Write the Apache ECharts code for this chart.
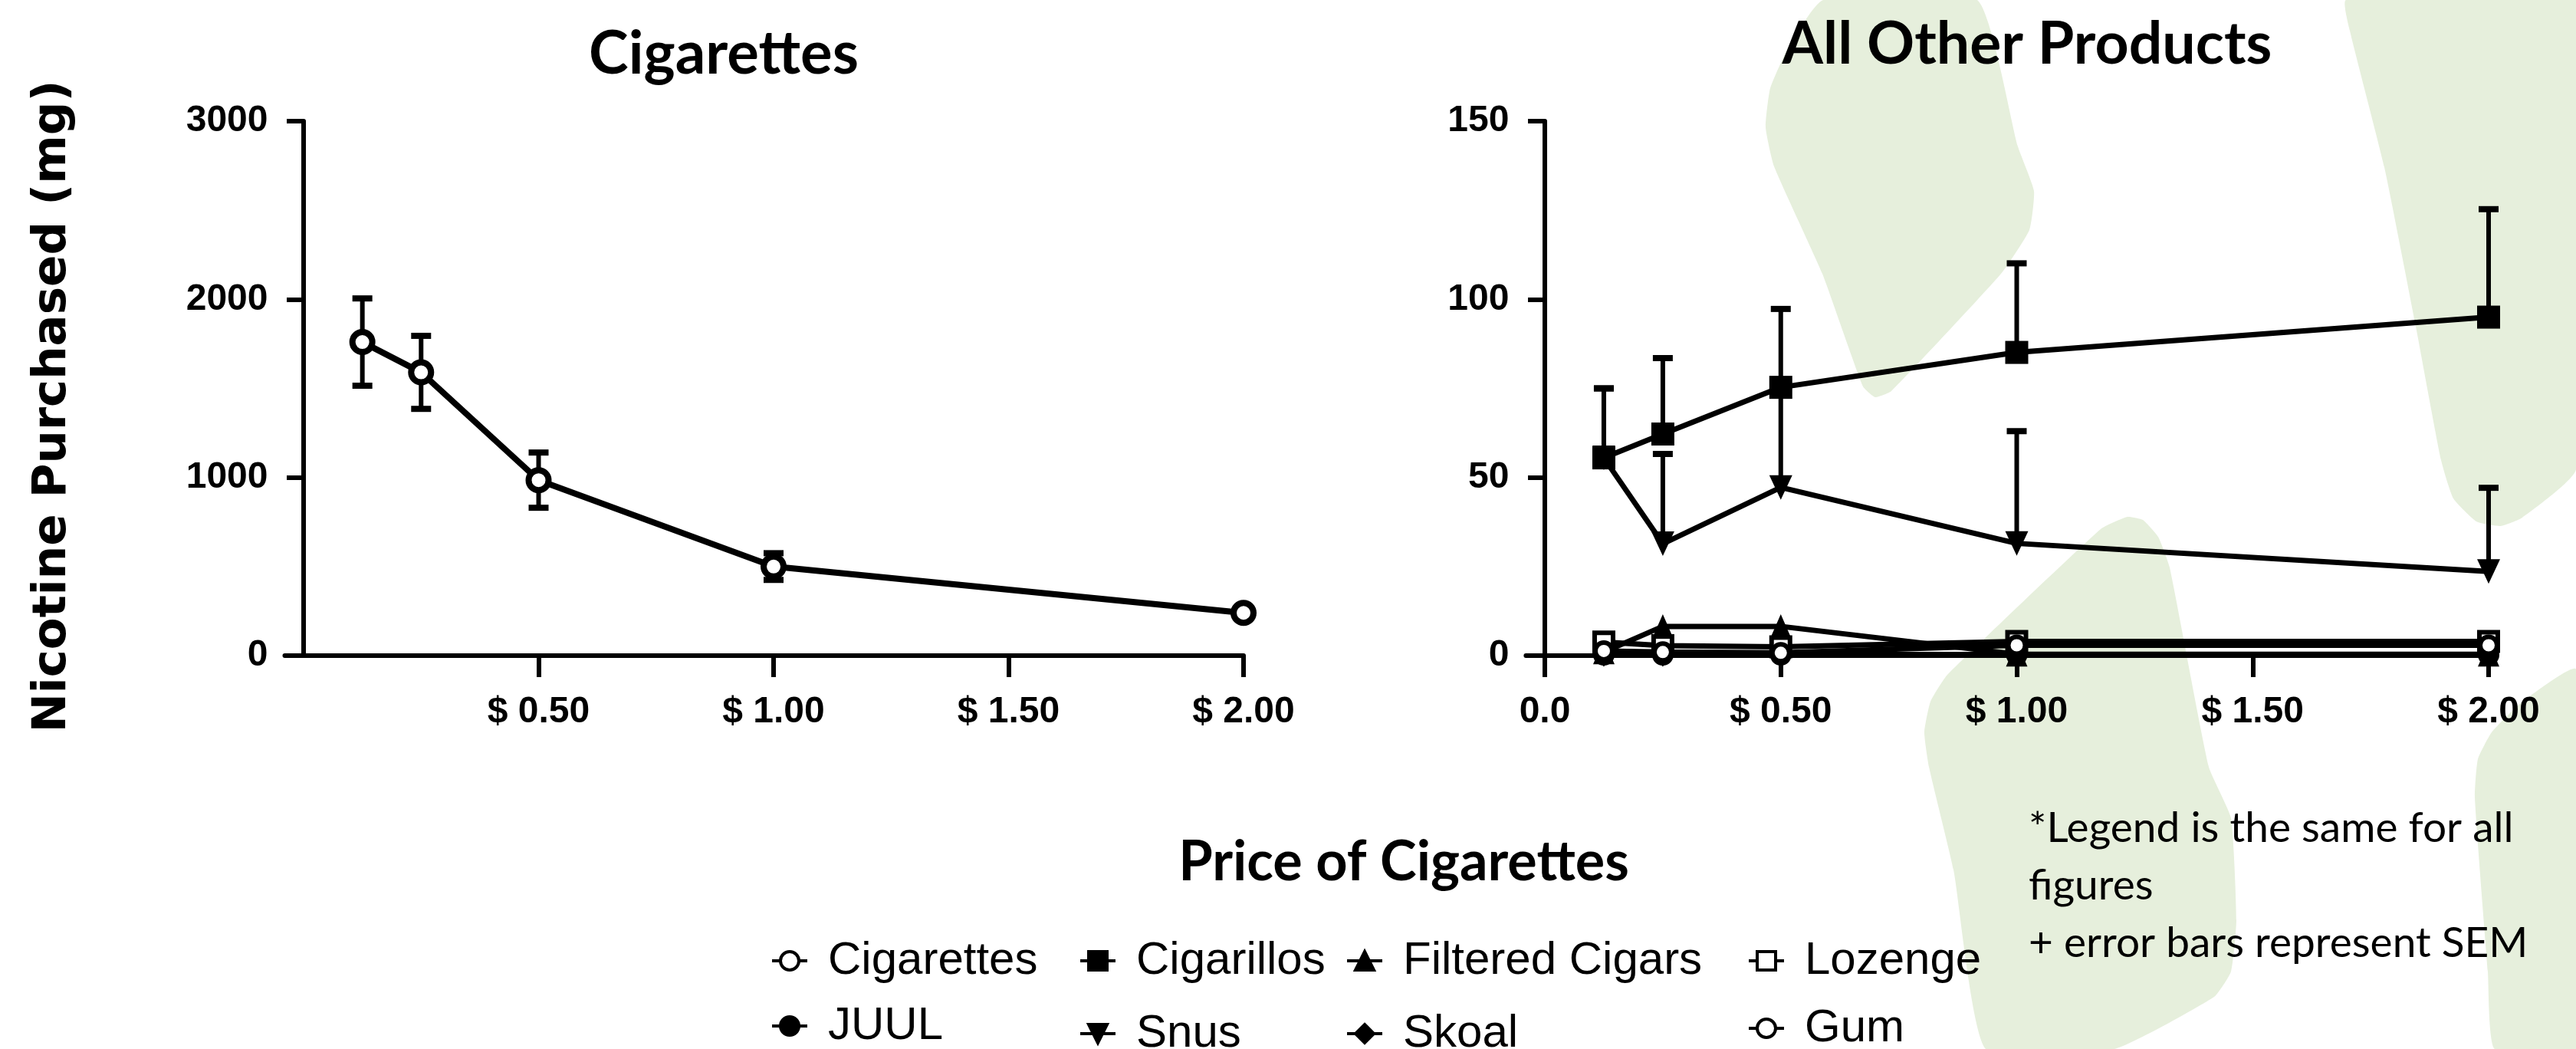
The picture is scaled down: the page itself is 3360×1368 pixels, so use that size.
<!DOCTYPE html>
<html>
<head>
<meta charset="utf-8">
<script src="https://cdn.jsdelivr.net/npm/echarts@6/dist/echarts.min.js"></script>
<style>
html,body{margin:0;padding:0;background:#fff;}
#chart{width:3360px;height:1368px;}
</style>
</head>
<body>
<div id="chart"></div>
<script>
// ---------- data ----------
const prices = [0.125, 0.25, 0.5, 1, 2];

const cigarettesMean = [1760, 1590, 985, 500, 240];
const cigarettesSEM  = [245, 205, 155, 75, 0];

const cigarillosMean = [55.5, 62.2, 75.3, 85.1, 95.0];
const cigarillosSEM  = [19.5, 21.3, 22.0, 25.0, 30.3];
const snusMean       = [55.5, 31.4, 47.2, 31.5, 23.6];
const snusSEM        = [19.5, 25.2, 28.0, 31.5, 23.5];
const filteredMean   = [1.0, 8.2, 8.2, 0.4, 0.4];
const lozengeMean    = [3.8, 2.8, 2.5, 4.0, 4.0];
const juulMean       = [0.2, 0.2, 0.2, 0.2, 0.2];
const skoalMean      = [0.3, 0.3, 0.3, 0.3, 0.3];
const gumMean        = [1.3, 1.0, 0.8, 2.9, 2.9];

const xTickValuesLeft  = [0.5, 1, 1.5, 2];
const xTickLabelsLeft  = ['$ 0.50', '$ 1.00', '$ 1.50', '$ 2.00'];
const xTickValuesRight = [0, 0.5, 1, 1.5, 2];
const xTickLabelsRight = ['0.0', '$ 0.50', '$ 1.00', '$ 1.50', '$ 2.00'];
const yTicksLeft  = [0, 1000, 2000, 3000];
const yTicksRight = [0, 50, 100, 150];

const titleLeft = 'Cigarettes';
const titleRight = 'All Other Products';
const xTitle = 'Price of Cigarettes';
const yTitle = 'Nicotine Purchased (mg)';
const noteLines = ['*Legend is the same for all', 'figures', '+ error bars represent SEM'];

const legendRow1 = ['Cigarettes', 'Cigarillos', 'Filtered Cigars', 'Lozenge'];
const legendRow2 = ['JUUL', 'Snus', 'Skoal', 'Gum'];

// ---------- helpers ----------
function pairs(ys) { return prices.map((x, i) => [x, ys[i]]); }
function triples(ys, es) { return prices.map((x, i) => [x, ys[i], es[i]]); }

function errRender(both) {
  return function (params, api) {
    const x = api.value(0), y = api.value(1), e = api.value(2);
    if (!e) return null;
    const top = api.coord([x, y + e]);
    const mid = api.coord([x, y]);
    const bot = both ? api.coord([x, y - e]) : mid;
    const cw = 13;
    const kids = [
      { type: 'line', shape: { x1: top[0], y1: top[1], x2: bot[0], y2: bot[1] }, style: { stroke: '#000', lineWidth: 6 } },
      { type: 'line', shape: { x1: top[0] - cw, y1: top[1], x2: top[0] + cw, y2: top[1] }, style: { stroke: '#000', lineWidth: 8 } }
    ];
    if (both) kids.push({ type: 'line', shape: { x1: bot[0] - cw, y1: bot[1], x2: bot[0] + cw, y2: bot[1] }, style: { stroke: '#000', lineWidth: 8 } });
    return { type: 'group', children: kids };
  };
}

const axisFont = { fontFamily: 'Liberation Sans', fontWeight: 'bold', fontSize: 48, color: '#000' };
const axisLineStyle = { show: true, onZero: true, lineStyle: { color: '#000', width: 6 } };

function xAxisDef(gi, vals, labels) {
  return {
    type: 'value', gridIndex: gi, min: -0.04, max: 2,
    axisLine: axisLineStyle,
    axisTick: { show: true, length: 28, lineStyle: { color: '#000', width: 6 }, customValues: vals },
    axisLabel: Object.assign({ margin: 50, customValues: vals,
      formatter: v => { const i = vals.findIndex(t => Math.abs(t - v) < 1e-9); return i >= 0 ? labels[i] : ''; } }, axisFont),
    splitLine: { show: false }
  };
}
function yAxisDef(gi, ticks) {
  return {
    type: 'value', gridIndex: gi, min: ticks[0], max: ticks[ticks.length - 1],
    axisLine: axisLineStyle,
    axisTick: { show: true, length: 22, lineStyle: { color: '#000', width: 6 }, customValues: ticks },
    axisLabel: Object.assign({ margin: 22, customValues: ticks, formatter: v => String(v) }, axisFont),
    splitLine: { show: false }
  };
}

function lineSeries(name, ys, gi, symbol, size, lw, fill, bw, extra) {
  return Object.assign({
    name: name, type: 'line', xAxisIndex: gi, yAxisIndex: gi,
    data: pairs(ys), symbol: symbol, symbolSize: size,
    lineStyle: { color: '#000', width: lw },
    itemStyle: { color: fill, borderColor: '#000', borderWidth: bw },
    emphasis: { disabled: true }, animation: false, z: 3
  }, extra || {});
}

// ---------- background decoration ----------
const green = '#E6EFDC';
const bgShapes = [
  [[2378,0],[2335,57],[2309,115],[2303,166],[2314,217],[2377,357],[2430,504],[2446,518],[2467,510],[2610,357],[2647,300],[2653,249],[2632,191],[2579,0]],
  [[3060,0],[3065,40],[3110,218],[3150,420],[3184,600],[3200,650],[3230,680],[3262,686],[3290,675],[3360,612],[3360,0]],
  [[2775,674],[2795,678],[2815,700],[2830,740],[2881,1000],[2910,1067],[2917,1200],[2910,1267],[2888,1300],[2758,1368],[2590,1368],[2548,1134],[2516,1000],[2510,955],[2518,915],[2540,880],[2740,690]],
  [[3360,873],[3290,915],[3250,955],[3232,990],[3228,1040],[3245,1267],[3254,1368],[3360,1368]]
];

const graphics = bgShapes.map(p => ({ type: 'polygon', z: -100, silent: true, shape: { points: p, smooth: 0.15 }, style: { fill: green } }));

function txt(text, x, y, font, align, rot) {
  return { type: 'text', x: x, y: y, rotation: rot || 0, z: 50, silent: true,
    style: { text: text, font: font, fill: '#000', align: align || 'center', verticalAlign: 'middle', textAlign: align || 'center', textVerticalAlign: 'middle' } };
}
graphics.push(txt(titleLeft, 944, 71, 'bold 78px Lato'));
graphics.push(txt(titleRight, 2644, 58, 'bold 77px Lato'));
graphics.push(txt(xTitle, 1831, 1125, 'bold 72px Lato'));
graphics.push(txt(yTitle, 69, 530, 'bold 61px "DejaVu Sans"', 'center', Math.PI / 2));
noteLines.forEach((t, i) => graphics.push(txt(t, 2646, 1080 + i * 75, '55px Lato', 'left')));

// ---------- legends ----------
const legendCols = [1000, 1402, 1750, 2274];
const legendBase = {
  itemWidth: 46, itemHeight: 30, selectedMode: false,
  itemStyle: { borderWidth: 4 }, lineStyle: { width: 4 },
  textStyle: { fontFamily: 'Liberation Sans', fontSize: 60, color: '#000', padding: [0, 0, 0, 22] }
};
const legends = [];
legendRow1.forEach((n, i) => legends.push(Object.assign({}, legendBase, { data: [n], left: legendCols[i], top: 1218 })));
const row2Tops = [1303, 1313, 1313, 1306];
legendRow2.forEach((n, i) => legends.push(Object.assign({}, legendBase, { data: [n], left: legendCols[i], top: row2Tops[i] })));

// ---------- chart ----------
const chart = echarts.init(document.getElementById('chart'));
chart.setOption({
  animation: false,
  backgroundColor: 'transparent',
  graphic: graphics,
  legend: legends,
  grid: [
    { left: 371.5, top: 158, width: 1250.5, height: 697 },
    { left: 1990.4, top: 158, width: 1255.6, height: 697 }
  ],
  xAxis: [xAxisDef(0, xTickValuesLeft, xTickLabelsLeft), xAxisDef(1, xTickValuesRight, xTickLabelsRight)],
  yAxis: [yAxisDef(0, yTicksLeft), yAxisDef(1, yTicksRight)],
  series: [
    { type: 'custom', xAxisIndex: 0, yAxisIndex: 0, data: triples(cigarettesMean, cigarettesSEM), renderItem: errRender(true), encode: { x: 0, y: 1 }, z: 2, silent: true },
    lineSeries('Cigarettes', cigarettesMean, 0, 'circle', 26, 8, '#fff', 8),

    { type: 'custom', xAxisIndex: 1, yAxisIndex: 1, data: triples(cigarillosMean, cigarillosSEM), renderItem: errRender(false), encode: { x: 0, y: 1 }, z: 2, silent: true },
    { type: 'custom', xAxisIndex: 1, yAxisIndex: 1, data: triples(snusMean, snusSEM), renderItem: errRender(false), encode: { x: 0, y: 1 }, z: 2, silent: true },
    lineSeries('Cigarillos', cigarillosMean, 1, 'rect', 30, 7, '#000', 0),
    lineSeries('Snus', snusMean, 1, 'triangle', [30, 32], 7, '#000', 0, { symbolRotate: 180 }),
    lineSeries('Filtered Cigars', filteredMean, 1, 'triangle', [28, 32], 7, '#000', 0),
    lineSeries('Lozenge', lozengeMean, 1, 'rect', 24, 7, '#fff', 6),
    lineSeries('JUUL', juulMean, 1, 'circle', 28, 7, '#000', 0),
    lineSeries('Skoal', skoalMean, 1, 'diamond', [24, 32], 7, '#000', 0),
    lineSeries('Gum', gumMean, 1, 'circle', 22, 7, '#fff', 6)
  ]
});
</script>
</body>
</html>
